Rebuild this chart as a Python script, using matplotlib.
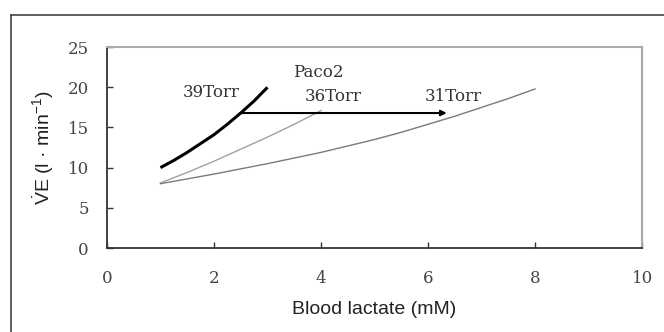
import matplotlib
matplotlib.use("Agg")
import matplotlib.pyplot as plt
from matplotlib.lines import Line2D


# Data
lactate_39 = [1.0, 1.25, 1.5, 1.75, 2.0, 2.25, 2.5, 2.75, 3.0]
ve_39 = [10.0, 10.9, 11.9, 13.0, 14.1, 15.4, 16.8, 18.3, 20.0]

lactate_36 = [1.0, 1.5, 2.0, 2.5, 3.0, 3.5, 4.0]
ve_36 = [8.1, 9.4, 10.8, 12.3, 13.8, 15.4, 17.1]

lactate_31 = [1.0, 1.5, 2.0, 2.5, 3.0, 3.5, 4.0, 4.5,
              5.0, 5.5, 6.0, 6.5, 7.0, 7.5, 8.0]
ve_31 = [8.0, 8.6, 9.2, 9.85, 10.5, 11.2, 11.9, 12.7,
         13.5, 14.4, 15.4, 16.4, 17.5, 18.6, 19.8]

arrow_start = (2.5, 16.8)
arrow_end = (6.35, 16.8)

labels = ["39Torr", "36Torr", "31Torr"]
label_pos = [(1.42, 19.4), (3.70, 18.8), (5.93, 18.8)]

xticks = [0, 2, 4, 6, 8, 10]
yticks = [0, 5, 10, 15, 20, 25]


plt.rcParams["font.family"] = ["Liberation Sans", "DejaVu Sans"]
plt.rcParams["mathtext.fontset"] = "custom"
plt.rcParams["mathtext.rm"] = "Liberation Sans"
plt.rcParams["mathtext.it"] = "Liberation Sans"

fig = plt.figure(figsize=(6.64, 3.32), dpi=100)
ax = fig.add_axes([0.161, 0.253, 0.806, 0.605])

# outer frame (left and top only)
fig.add_artist(Line2D([11 / 664, 1.0], [1 - 15 / 332, 1 - 15 / 332],
                      color="#444444", lw=1.2))
fig.add_artist(Line2D([11 / 664, 11 / 664], [0.0, 1 - 15 / 332],
                      color="#444444", lw=1.2))

# Curves
ax.plot(lactate_39, ve_39, color="black", lw=2.2, solid_capstyle="butt")
ax.plot(lactate_36, ve_36, color="#a0a0a0", lw=1.0)
ax.plot(lactate_31, ve_31, color="#7a7a7a", lw=1.0)

ax.annotate("", xy=arrow_end, xytext=arrow_start,
            arrowprops=dict(arrowstyle="-|>", color="black", lw=1.5,
                            mutation_scale=8, shrinkA=0, shrinkB=0))

serif = ["DejaVu Serif"]
for txt, (tx, ty) in zip(labels, label_pos):
    ax.text(tx, ty, txt, family=serif, fontsize=12, color="#333333",
            ha="left", va="center")
ax.text(3.48, 21.9, "Paco2", family=serif, fontsize=12, color="#333333",
        ha="left", va="center")

ax.set_xlim(0, 10)
ax.set_ylim(0, 25)
ax.set_xticks(xticks)
ax.set_yticks(yticks)
ax.tick_params(direction="in", length=4, width=1, color="#333333",
               labelcolor="#444444", labelsize=12)
ax.tick_params(axis="x", pad=16)
ax.tick_params(axis="y", pad=13)
for lab in ax.get_xticklabels() + ax.get_yticklabels():
    lab.set_family(serif)

for side in ["left", "bottom"]:
    ax.spines[side].set_color("#333333")
    ax.spines[side].set_linewidth(1.3)
for side in ["top", "right"]:
    ax.spines[side].set_color("#aaaaaa")
    ax.spines[side].set_linewidth(1.5)

ax.set_xlabel("Blood lactate (mM)", fontsize=14, color="#222222", labelpad=10)
ax.set_ylabel(r"$\dot{\mathrm{V}}$E (l · min$^{-1}$)", fontsize=14,
              color="#222222", labelpad=8)

fig.savefig("out.png", dpi=100)
